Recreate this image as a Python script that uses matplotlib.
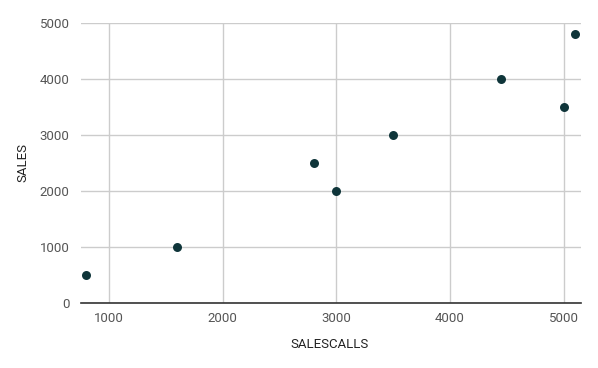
import matplotlib
matplotlib.use("Agg")
import matplotlib.pyplot as plt


# Data
sales_calls = [800, 1600, 2800, 3000, 3500, 4450, 5000, 5100]
sales = [500, 1000, 2500, 2000, 3000, 4000, 3500, 4800]
x_ticks = [1000, 2000, 3000, 4000, 5000]
y_ticks = [0, 1000, 2000, 3000, 4000, 5000]

plt.rcParams["font.family"] = ["Roboto", "DejaVu Sans"]

W, H = 598, 368
fig = plt.figure(figsize=(W / 100, H / 100), dpi=100)

# axes placed in pixel coords of the reference
left, right, top, bottom = 80.7, 580.7, 23.3, 303.3
ax = fig.add_axes([left / W, 1 - bottom / H, (right - left) / W, (bottom - top) / H])

ax.scatter(sales_calls, sales, s=42, color="#0f353a", zorder=3, linewidths=0)

ax.set_xlim(750, 5150)
ax.set_ylim(0, 5000)
ax.set_xticks(x_ticks)
ax.set_yticks(y_ticks)

ax.grid(True, color="#cccccc", linewidth=1)
ax.set_axisbelow(True)

for side in ["top", "right", "left"]:
    ax.spines[side].set_visible(False)
ax.spines["bottom"].set_color("#333333")
ax.spines["bottom"].set_linewidth(1.2)

ax.tick_params(length=0, labelsize=9.5, labelcolor="#555555")
ax.tick_params(axis="y", pad=8)
ax.tick_params(axis="x", pad=6)

# axis titles at the reference positions
fig.text(330 / W, 1 - 345 / H, "SALESCALLS", fontsize=9.5, color="#222222",
         ha="center", va="center")
fig.text(23 / W, 1 - 163 / H, "SALES", fontsize=9.5, color="#222222",
         ha="center", va="center", rotation=90)

fig.savefig("out.png", dpi=100)
